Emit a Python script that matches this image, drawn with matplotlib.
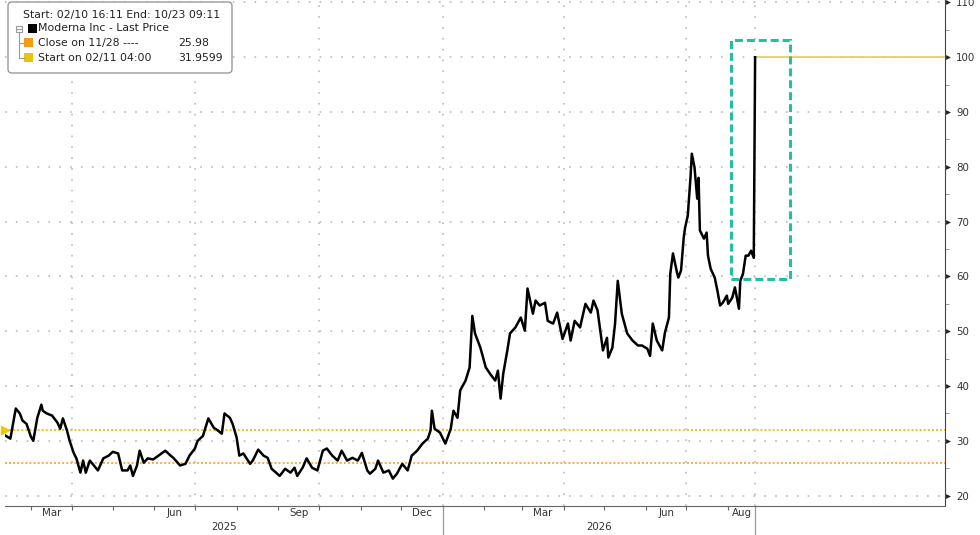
import pandas as pd
import matplotlib
matplotlib.use('Agg')
import matplotlib.pyplot as plt
import matplotlib.dates as mdates
from matplotlib.patches import Rectangle, FancyBboxPatch
from matplotlib.lines import Line2D
from matplotlib.transforms import blended_transform_factory, IdentityTransform

# data
START = pd.Timestamp('2025-02-10')
DAY = [0, 4, 6, 8, 11, 13, 16, 19, 21, 24,
       27, 28, 31, 35, 39, 41, 43, 46, 48, 51,
       53, 56, 58, 60, 63, 65, 69, 73, 77, 80,
       84, 87, 91, 93, 95, 98, 100, 103, 106, 110,
       114, 119, 123, 125, 130, 134, 137, 141, 143, 147,
       151, 155, 158, 161, 163, 167, 169, 172, 174, 177,
       182, 184, 188, 192, 195, 198, 204, 208, 212, 215,
       217, 221, 224, 228, 232, 236, 239, 243, 247, 250,
       254, 258, 262, 265, 269, 271, 275, 277, 281, 285,
       288, 291, 295, 299, 302, 306, 310, 314, 316, 317,
       319, 323, 327, 331, 333, 336, 338, 342, 345, 347,
       349, 353, 357, 360, 364, 366, 368, 370, 373, 375,
       379, 383, 386, 388, 392, 394, 397, 401, 403, 407,
       410, 414, 418, 420, 423, 427, 431, 435, 437, 440,
       442, 444, 447, 448, 451, 453, 455, 458, 462, 466,
       470, 473, 477, 479, 481, 484, 488, 490, 493, 494,
       496, 499, 500, 502, 504, 505, 507, 509, 510, 512,
       514, 515, 516, 519, 521, 522, 524, 527, 529, 531,
       533, 536, 537, 540, 542, 545, 546, 548, 550, 552,
       554, 556, 557]
PRICE = [31.0, 30.4, 33.1, 35.9, 35.0, 33.7, 33.1, 30.9, 30.0, 34.2,
         36.6, 35.5, 35.0, 34.6, 33.3, 32.2, 34.1, 31.9, 30.0, 27.8,
         26.8, 24.2, 26.4, 24.2, 26.4, 25.8, 24.6, 26.8, 27.3, 28.0,
         27.7, 24.6, 24.6, 25.5, 23.6, 25.5, 28.2, 26.0, 26.8, 26.6,
         27.3, 28.2, 27.3, 26.9, 25.5, 25.8, 27.3, 28.6, 30.0, 30.9,
         34.1, 32.4, 31.9, 31.3, 35.0, 34.2, 33.1, 30.6, 27.3, 27.7,
         25.8, 26.4, 28.4, 27.3, 26.9, 24.9, 23.6, 24.9, 24.2, 25.1,
         23.6, 25.1, 26.8, 25.1, 24.6, 28.2, 28.6, 27.3, 26.4, 28.2,
         26.4, 26.9, 26.4, 27.8, 24.6, 24.0, 24.9, 26.4, 24.2, 24.6,
         23.1, 24.0, 25.8, 24.6, 27.3, 28.2, 29.5, 30.4, 31.9, 35.5,
         32.2, 31.5, 29.5, 32.2, 35.5, 34.2, 39.2, 41.0, 43.4, 52.8,
         49.6, 47.0, 43.4, 42.3, 41.0, 42.8, 37.7, 42.3, 46.5, 49.6,
         50.7, 52.5, 50.1, 57.8, 53.2, 55.6, 54.7, 55.2, 51.9, 51.4,
         53.4, 48.6, 51.4, 48.3, 51.9, 50.7, 55.0, 53.4, 55.6, 53.8,
         50.1, 46.5, 48.8, 45.2, 47.0, 51.4, 59.2, 53.2, 49.6, 48.3,
         47.4, 47.4, 46.8, 45.5, 51.4, 48.3, 46.5, 49.7, 52.5, 60.5,
         64.2, 60.7, 59.8, 61.1, 67.1, 68.9, 71.1, 78.0, 82.4, 79.9,
         74.2, 78.0, 68.4, 66.9, 68.0, 63.8, 61.4, 59.8, 57.4, 54.7,
         55.2, 56.5, 55.0, 56.1, 58.0, 54.1, 59.2, 60.5, 63.8, 63.8,
         64.7, 63.4, 100.0]

CLOSE_1128 = 25.98
START_0211 = 31.9599
END_DAY = 698
Y_TICKS = [20, 30, 40, 50, 60, 70, 80, 90, 100, 110]
Y_MINOR = [25, 35, 45, 55, 65, 75, 85, 95, 105]
QUARTERS = ['2025-04-01', '2025-07-01', '2025-10-01', '2026-01-01', '2026-04-01', '2026-07-01']
MONTH_LABELS = [('Mar', '2025-03-01', '2025-04-01'), ('Jun', '2025-06-01', '2025-07-01'),
                ('Sep', '2025-09-01', '2025-10-01'), ('Dec', '2025-12-01', '2026-01-01'),
                ('Mar', '2026-03-01', '2026-04-01'), ('Jun', '2026-06-01', '2026-07-01'),
                ('Aug', '2026-08-01', None)]
YEARS = ['2025', '2026']
BOX_DAYS = [539, 583]
BOX_PRICES = [59.6, 103.2]

W, H = 980, 535
FONT = 'DejaVu Sans'
plt.rcParams['font.family'] = FONT

dates = START + pd.to_timedelta(DAY, unit='D')
last = dates[-1]
x_end = START + pd.Timedelta(days=END_DAY)

fig = plt.figure(figsize=(W / 100, H / 100), dpi=100)
ax = fig.add_axes([5 / W, 1 - 505.5 / H, 940 / W, 505.5 / H])
ax.set_xlim(START, x_end)
ax.set_ylim(18.2, 110.45)

grid_kw = dict(color='#b5b5b5', lw=1.1, linestyle=(0, (1.1, 6)), zorder=1)
for v in Y_TICKS:
    ax.axhline(v, **grid_kw)
for q in QUARTERS:
    ax.axvline(pd.Timestamp(q), **grid_kw)
ax.axvline(last, **grid_kw)

ax.axhline(START_0211, color='#f0c800', lw=1.4, linestyle=(0, (1, 1.1)), zorder=2)
ax.axhline(CLOSE_1128, color='#f8ad45', lw=1.4, linestyle=(0, (1, 1.1)), zorder=2)
ax.plot([dates[0]], [START_0211], marker='>', ms=6, color='#f0c800', clip_on=False, zorder=3)

ax.plot([last, x_end], [PRICE[-1], PRICE[-1]], color='#e8d06a', lw=1.3, zorder=3)
ax.plot(dates, PRICE, color='black', lw=1.8, zorder=5)

x0 = mdates.date2num(START + pd.Timedelta(days=BOX_DAYS[0]))
x1 = mdates.date2num(START + pd.Timedelta(days=BOX_DAYS[1]))
ax.add_patch(Rectangle((x0, BOX_PRICES[0]), x1 - x0, BOX_PRICES[1] - BOX_PRICES[0],
                       fill=False, edgecolor='#22c0a0', lw=2.2, linestyle=(0, (2.6, 1.3)),
                       zorder=6))

for s in ['top', 'left']:
    ax.spines[s].set_visible(False)
ax.spines['bottom'].set_color('#666666')
ax.spines['right'].set_color('#444444')

# right axis
ax.yaxis.tick_right()
ax.set_yticks(Y_TICKS)
ax.set_yticks(Y_MINOR, minor=True)
ax.tick_params(axis='y', which='major', length=0, pad=8, labelsize=7.4, labelcolor='#333333')
ax.tick_params(axis='y', which='minor', length=3, color='#888888')
ytrans = blended_transform_factory(ax.transAxes, ax.transData)
ax.scatter([1 + 3 / 940] * len(Y_TICKS), Y_TICKS, transform=ytrans, marker='>', s=12,
           color='#222222', clip_on=False, zorder=7, linewidths=0)

# bottom axis
months = pd.date_range('2025-03-01', '2026-08-01', freq='MS')
ax.set_xticks(months)
ax.set_xticklabels([])
ax.tick_params(axis='x', length=3, color='#666666')

xtrans = blended_transform_factory(ax.transData, fig.transFigure)
for name, a, b in MONTH_LABELS:
    a = pd.Timestamp(a)
    b = last if b is None else pd.Timestamp(b)
    mid = a + (b - a) / 2
    ax.text(mid, 1 - 513.5 / H, name, transform=xtrans, ha='center', va='center',
            fontsize=7.4, color='#333333')

year_edges = [START, pd.Timestamp('2026-01-01'), last]
for i, yr in enumerate(YEARS):
    mid = year_edges[i] + (year_edges[i + 1] - year_edges[i]) / 2
    ax.text(mid, 1 - 527 / H, yr, transform=xtrans, ha='center', va='center',
            fontsize=7.4, color='#333333')
for e in year_edges[1:]:
    ax.plot([e, e], [1 - 505.5 / H, 0], transform=xtrans, color='#999999', lw=0.9,
            clip_on=False)


# legend box, drawn in pixel coordinates (top-left origin)
def px(x, y):
    return x, H - y


pix = IdentityTransform()
bx, by = px(8, 73)
fig.add_artist(FancyBboxPatch((bx, by), 224, 71, boxstyle='round,pad=0,rounding_size=4',
                              transform=pix, facecolor='white', edgecolor='#9a9a9a', lw=1,
                              zorder=10))


def legend_text(x, y, s):
    fig.text(x / W, 1 - y / H, s, ha='left', va='center', fontsize=7.8,
             color='#222222', zorder=11)


legend_text(23, 15, 'Start: 02/10 16:11 End: 10/23 09:11')
legend_text(38, 28, 'Moderna Inc - Last Price')
legend_text(38, 43, 'Close on 11/28 ----')
legend_text(178, 43, '25.98')
legend_text(38, 58, 'Start on 02/11 04:00')
legend_text(178, 58, '31.9599')

for (sx, sy, c) in [(28, 24, 'black'), (24, 38, '#f39c12'), (24, 53, '#e8c410')]:
    x, y = px(sx, sy + 9)
    fig.add_artist(Rectangle((x, y), 9, 9, transform=pix, facecolor=c, edgecolor='none',
                             zorder=11))

# tree connectors
x, y = px(16, 32)
fig.add_artist(Rectangle((x, y), 6, 6, transform=pix, fill=False, edgecolor='#999999',
                         lw=0.8, zorder=11))
for seg in [((17, 29), (21, 29)), ((19, 32), (19, 58)), ((19, 43), (24, 43)),
            ((19, 58), (24, 58))]:
    (xa, ya), (xb, yb) = seg
    fig.add_artist(Line2D([xa, xb], [H - ya, H - yb], transform=pix, color='#999999',
                          lw=0.8, zorder=11))

fig.savefig('out.png', dpi=100)
